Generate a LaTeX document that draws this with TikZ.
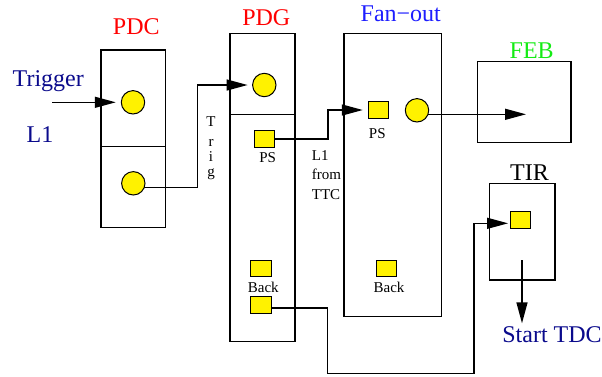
\documentclass[tikz,border=0pt]{standalone}
\usepackage{fontspec}
\setmainfont{Liberation Serif}
\usetikzlibrary{arrows.meta,calc,backgrounds}
\definecolor{navy}{RGB}{10,10,140}
\definecolor{fanblue}{RGB}{30,30,255}
\definecolor{febgreen}{RGB}{20,235,20}
\definecolor{pdred}{RGB}{255,0,0}
\begin{document}
\begin{tikzpicture}[x=1pt,y=-1pt,
  box/.style={draw, line width=1.4pt, inner sep=0pt, outer sep=0pt},
  dot/.style={circle, draw, fill=yellow, line width=1pt, minimum size=23.4pt, inner sep=0pt},
  sq/.style={rectangle, draw, fill=yellow, line width=1pt, minimum width=20.5pt, minimum height=16.5pt, inner sep=0pt},
  big/.style={font=\fontsize{24}{28}\selectfont, anchor=base, inner sep=0pt},
  small/.style={font=\fontsize{15}{17}\selectfont, anchor=base, inner sep=0pt},
  smallw/.style={small, anchor=base west},
  conn/.style={line width=1.4pt},
  arr/.style={conn, -{Triangle[length=21pt,width=11pt]}}
]
\useasboundingbox (0,0) rectangle (602,376);

% boxes
\node[box, minimum width=64.3pt, minimum height=177.7pt] (pdc) at (133.15,138.85) {};
\node[box, minimum width=65pt, minimum height=308.4pt] (pdg) at (262.5,187.5) {};
\node[box, minimum width=97.7pt, minimum height=283.4pt] (fan) at (392.85,175) {};
\node[box, minimum width=93.3pt, minimum height=81pt] (feb) at (524.35,102.2) {};
\node[box, minimum width=65.7pt, minimum height=96.7pt] (tir) at (522.15,231.65) {};
\coordinate (pdcdiv) at (0,146.7);
\coordinate (pdgdiv) at (0,114.3);
\draw[line width=1.4pt] (pdc.west |- pdcdiv) -- (pdc.east |- pdcdiv);
\draw[line width=1.4pt] (pdg.west |- pdgdiv) -- (pdg.east |- pdgdiv);

% titles
\node[big, text=pdred] (tpdc) at (136.3,34.3) {PDC};
\node[big, text=pdred] (tpdg) at (266.3,25) {PDG};
\node[big, text=fanblue] (tfan) at (400.8,21) {Fan−out};
\node[big, text=febgreen] (tfeb) at (531.7,58.3) {FEB};
\node[big] (ttir) at (529.5,180) {TIR};
\node[big, text=navy] (ttrig) at (48.3,86) {Trigger};
\node[big, text=navy] (tl1) at (40,142.7) {L1};
\node[big, text=navy] (ttdc) at (552,342.3) {Start TDC};

% circles and squares
\node[dot] (pdcA) at (133,102.3) {};
\node[dot] (pdcB) at (133.3,183.3) {};
\node[dot] (pdgA) at (264.3,85) {};
\node[dot] (fanC) at (417,110.3) {};
\node[sq] (pdgPS) at (264.7,139) {};
\node[sq] (fanPS) at (378.5,110) {};
\node[sq] (pdgBk1) at (260.8,268.3) {};
\node[sq] (pdgBk2) at (260.8,305) {};
\node[sq] (fanBk) at (386.7,268.3) {};
\node[sq] (tirSq) at (520.3,220) {};

% small labels
\node[small] (lps1) at (267.7,162.3) {PS};
\node[small] (lps2) at (377.3,138.3) {PS};
\node[small] (lbk1) at (263.3,292.7) {Back};
\node[small] (lbk2) at (389,292.7) {Back};
\node[small] (lt1) at (211,126.7) {T};
\node[small] (lt2) at (211,146.7) {r};
\node[small] (lt3) at (211,161.7) {i};
\node[small] (lt4) at (211,176.7) {g};
\node[smallw] (ll1) at (311.7,160) {L1};
\node[smallw] (ll2) at (311.7,179.5) {from};
\node[smallw] (ll3) at (311.7,199) {TTC};

% connector helper coordinates
\coordinate (tin) at (52,102.3);
\coordinate (k1) at (197.7,85);
\coordinate (k2) at (328,110);
\coordinate (febin) at (526,114.3);
\coordinate (k3) at (327.3,373.3);
\coordinate (k4) at (474,223.3);
\coordinate (tirout) at (522,260);
\coordinate (tdcin) at (522,323.3);

\begin{pgfonlayer}{background}
\draw[arr, shorten >=5pt] (tin) -- (pdcA.west);
\draw[arr, shorten >=4.5pt] ($(pdcB.center)+(0,4)$) -| (k1) -- (pdgA.west);
\draw[arr, shorten >=5pt] (pdgPS.east) -| (k2) -- (fanPS.west);
\draw[arr] ($(fanC.center)+(0,4)$) -- (febin);
\draw[arr, shorten >=1.5pt] ($(pdgBk2.center)+(0,3)$) -| (k3) -| (k4) -- (k4 -| tirSq.west);
\draw[arr] (tirout) -- (tdcin);
\end{pgfonlayer}
\end{tikzpicture}
\end{document}
